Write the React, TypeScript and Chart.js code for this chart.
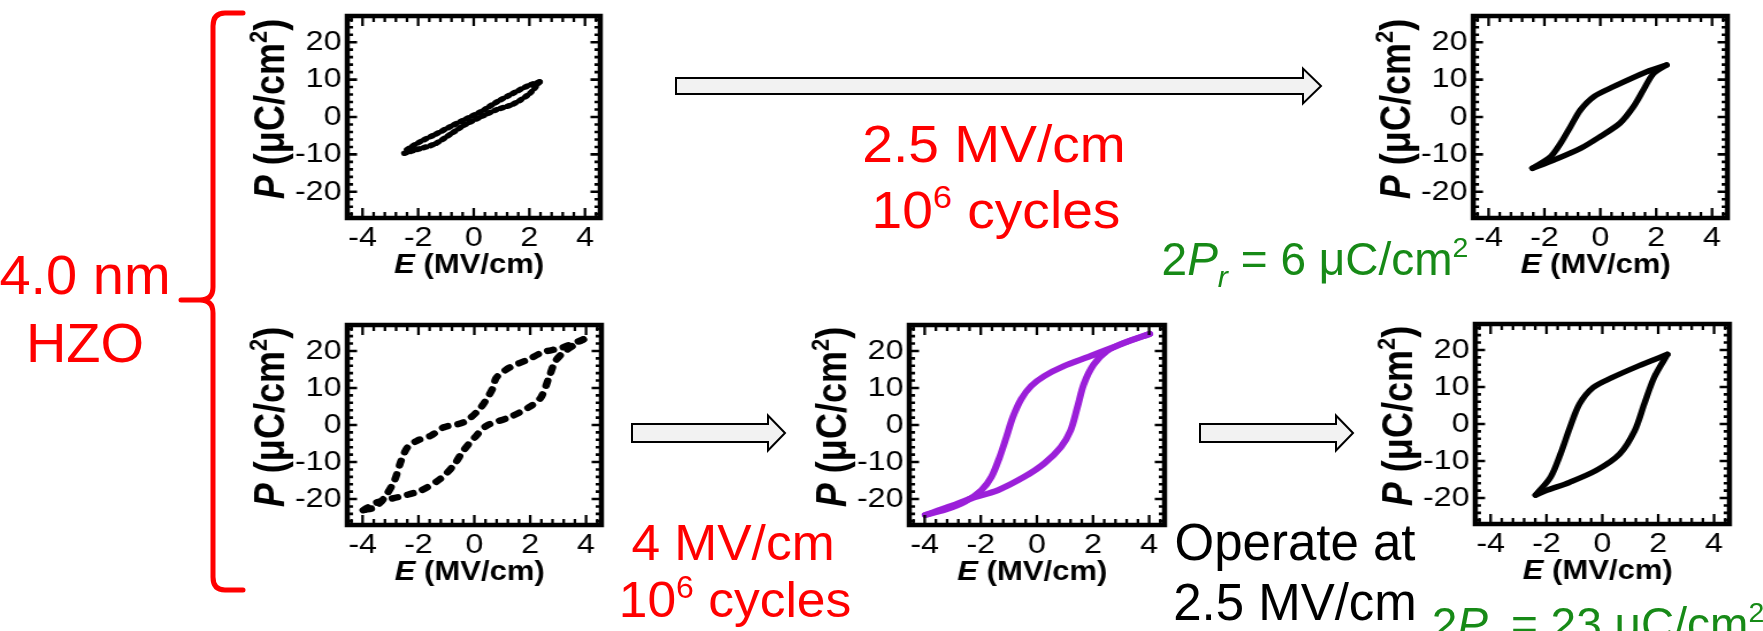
import React, { useEffect, useRef } from 'react';
import { Chart, registerables } from 'chart.js';

Chart.register(...registerables);

const FONT = "'Liberation Sans', Arial, Helvetica, sans-serif";

// ---------- axis ticks ----------
const X_TICKS = [-4, -2, 0, 2, 4];
const X_TICK_LABELS = ['-4', '-2', '0', '2', '4'];
const X_MINOR = [-4.4, -3.6, -3.2, -2.8, -2.4, -1.6, -1.2, -0.8, -0.4, 0.4, 0.8, 1.2, 1.6, 2.4, 2.8, 3.2, 3.6, 4.4];
const Y_TICKS = [-20, -10, 0, 10, 20];
const Y_TICK_LABELS = ['-20', '-10', '0', '10', '20'];
const Y_MINOR = [-26, -24, -22, -18, -16, -14, -12, -8, -6, -4, -2, 2, 4, 6, 8, 12, 14, 16, 18, 22, 24, 26];
const X_MIN = -4.55;
const X_MAX = 4.55;
const Y_MIN = -27;
const Y_MAX = 27;

// ---------- series (E in MV/cm, P in uC/cm2) ----------
// top-left: pristine, 2.5 MV/cm
const A_UP_E = [2.37, 2.0, 1.4, 0.8, 0.3, -0.3, -0.8, -1.4, -2.0, -2.5];
const A_UP_P = [9.4, 8.5, 6.3, 3.9, 1.6, -0.6, -2.4, -4.7, -6.9, -9.2];
const A_LO_E = [-2.5, -2.0, -1.4, -0.8, -0.3, 0.3, 0.8, 1.4, 2.0, 2.37];
const A_LO_P = [-9.7, -8.6, -7.2, -4.4, -2.0, 0.2, 1.9, 3.4, 6.2, 9.4];

// top-right: after 10^6 cycles at 2.5 MV/cm
const B_UP_E = [2.37, 1.66, 0.47, -0.24, -0.71, -1.07, -1.42, -1.78, -2.43];
const B_UP_P = [13.9, 12.1, 8.1, 5.4, 1.9, -2.6, -7.0, -10.6, -13.7];
const B_LO_E = [-2.43, -1.66, -0.71, 0.0, 0.71, 1.19, 1.54, 1.9, 2.37];
const B_LO_P = [-13.7, -11.5, -8.4, -5.2, -1.6, 2.8, 7.2, 11.6, 13.9];

// bottom-left: pristine, 4 MV/cm
const C_UP_E = [3.9, 3.14, 2.44, 1.96, 1.26, 0.79, 0.67, 0.44, 0.14, -0.39, -1.09, -1.56, -2.04, -2.39, -2.62, -2.86, -3.21, -3.56, -3.98];
const C_UP_P = [23.1, 20.9, 19.6, 17.8, 15.5, 12.8, 10.1, 7.0, 3.9, 0.7, -0.6, -2.9, -4.2, -6.0, -9.6, -15.0, -19.5, -22.2, -23.0];
const C_LO_E = [-3.98, -3.45, -2.74, -1.92, -1.21, -0.74, -0.39, 0.02, 0.44, 1.26, 1.96, 2.38, 2.67, 2.91, 3.26, 3.9];
const C_LO_P = [-23.0, -20.8, -19.5, -17.7, -14.5, -10.9, -6.9, -3.3, -0.2, 2.1, 4.8, 7.4, 12.8, 17.3, 20.0, 23.1];

// bottom-middle: after 10^6 cycles at 4 MV/cm
const D_UP_E = [4.02, 3.08, 1.91, 0.96, 0.26, -0.21, -0.56, -0.86, -1.09, -1.33, -1.62, -1.98, -2.56, -3.27, -3.98];
const D_UP_P = [24.6, 22.1, 18.6, 15.9, 13.2, 10.5, 7.0, 2.1, -3.3, -8.7, -14.0, -17.6, -20.7, -22.9, -24.3];
const D_LO_E = [-3.98, -3.15, -2.33, -1.39, -0.45, 0.26, 0.85, 1.2, 1.44, 1.67, 2.02, 2.49, 3.08, 4.02];
const D_LO_P = [-24.3, -22.1, -19.8, -17.6, -14.0, -10.4, -6.0, -1.5, 4.7, 11.0, 16.3, 19.9, 22.1, 24.6];

// bottom-right: operated at 2.5 MV/cm
const E_UP_E = [2.33, 1.3, 0.34, -0.34, -0.82, -1.16, -1.5, -1.85, -2.39];
const E_UP_P = [18.8, 15.7, 12.5, 9.8, 5.4, -0.9, -8.1, -14.3, -19.2];
const E_LO_E = [-2.39, -1.98, -1.16, -0.21, 0.62, 1.16, 1.5, 1.85, 2.33];
const E_LO_P = [-19.2, -17.9, -15.7, -12.5, -8.1, -1.8, 5.4, 12.5, 18.8];

// ---------- layout constants ----------
const SX = 1.15; // horizontal stretch of the pasted plots
const LY = 95;
const LX = 75;
const PAD_T = 8;
const PAD_R = 10;

const framePlugin = {
  id: 'hzoFrame',
  afterDraw(chart: any) {
    const { ctx, chartArea: a, scales } = chart;
    const sx = scales.x;
    const sy = scales.y;
    ctx.save();
    ctx.strokeStyle = '#000';
    ctx.lineCap = 'butt';
    ctx.lineWidth = 2.3;
    const drawX = (v: number, len: number) => {
      const px = sx.getPixelForValue(v);
      ctx.beginPath();
      ctx.moveTo(px, a.bottom);
      ctx.lineTo(px, a.bottom - len);
      ctx.moveTo(px, a.top);
      ctx.lineTo(px, a.top + len);
      ctx.stroke();
    };
    X_MINOR.forEach((v) => drawX(v, 6));
    X_TICKS.forEach((v) => drawX(v, 10));
    ctx.lineWidth = 2.6;
    const drawY = (v: number, len: number) => {
      const py = sy.getPixelForValue(v);
      ctx.beginPath();
      ctx.moveTo(a.left, py);
      ctx.lineTo(a.left + len, py);
      ctx.moveTo(a.right, py);
      ctx.lineTo(a.right - len, py);
      ctx.stroke();
    };
    Y_MINOR.forEach((v) => drawY(v, 5));
    Y_TICKS.forEach((v) => drawY(v, 8.5));
    ctx.lineWidth = 4.5;
    ctx.strokeRect(a.left, a.top, a.right - a.left, a.bottom - a.top);

    // x-axis title: E (MV/cm)
    ctx.fillStyle = '#000';
    ctx.textBaseline = 'middle';
    ctx.textAlign = 'left';
    const fIt = `italic bold 27px ${FONT}`;
    const fB = `bold 27px ${FONT}`;
    ctx.font = fIt;
    const wE = ctx.measureText('E').width;
    ctx.font = fB;
    const wR = ctx.measureText(' (MV/cm)').width;
    const x0 = (a.left + a.right) / 2 - 4 - (wE + wR) / 2;
    const yT = a.bottom + 48;
    ctx.font = fIt;
    ctx.fillText('E', x0, yT);
    ctx.font = fB;
    ctx.fillText(' (MV/cm)', x0 + wE, yT);

    // y-axis title: P (uC/cm2)
    ctx.save();
    ctx.translate(a.left - 65, (a.top + a.bottom) / 2 - 8);
    ctx.rotate(-Math.PI / 2);
    const parts: [string, string, number][] = [
      ['P', `italic bold 36px ${FONT}`, 0],
      [' (\u03bcC/cm', `bold 36px ${FONT}`, 0],
      ['2', `bold 22px ${FONT}`, -11],
      [')', `bold 36px ${FONT}`, 0],
    ];
    let total = 0;
    parts.forEach(([t, f]) => {
      ctx.font = f;
      total += ctx.measureText(t).width;
    });
    let cx = -total / 2;
    parts.forEach(([t, f, dy]) => {
      ctx.font = f;
      ctx.fillText(t, cx, dy);
      cx += ctx.measureText(t).width;
    });
    ctx.restore();
    ctx.restore();
  },
};

type Series = { e: number[]; p: number[] };

function toXY(s: Series) {
  return s.e.map((e, i) => ({ x: e, y: s.p[i] }));
}

function Panel({
  area,
  branches,
  color,
  width,
  dash,
}: {
  area: [number, number, number, number];
  branches: Series[];
  color: string;
  width: number;
  dash: number[];
}) {
  const ref = useRef<HTMLCanvasElement>(null);
  const [ax0, ax1, ay0, ay1] = area;
  const cw = Math.round(LY + (ax1 - ax0) / SX + PAD_R);
  const ch = Math.round(PAD_T + (ay1 - ay0) + LX);
  const left = ax0 - LY * SX;
  const top = ay0 - PAD_T;

  useEffect(() => {
    if (!ref.current) return;
    const chart = new Chart(ref.current, {
      type: 'line',
      data: {
        datasets: branches.map((b) => ({
          data: toXY(b),
          borderColor: color,
          backgroundColor: color,
          borderWidth: width,
          borderDash: dash,
          borderCapStyle: 'round',
          borderJoinStyle: 'round',
          pointRadius: 0,
          tension: 0.3,
          fill: false,
        })),
      },
      options: {
        responsive: false,
        maintainAspectRatio: false,
        animation: false,
        events: [],
        layout: { padding: { top: PAD_T, right: PAD_R, left: 0, bottom: 0 } },
        plugins: {
          legend: { display: false },
          tooltip: { enabled: false },
          title: { display: false },
        },
        scales: {
          x: {
            type: 'linear',
            min: X_MIN,
            max: X_MAX,
            afterBuildTicks: (s: any) => {
              s.ticks = X_TICKS.map((v) => ({ value: v }));
            },
            afterFit: (s: any) => {
              s.height = LX;
              s.paddingLeft = 0;
              s.paddingRight = 0;
            },
            grid: { display: false, drawTicks: false },
            border: { display: false },
            ticks: {
              color: '#000',
              font: { family: FONT, size: 28 },
              padding: 3,
              maxRotation: 0,
              autoSkip: false,
              callback: (v: any) => X_TICK_LABELS[X_TICKS.indexOf(Number(v))] ?? '',
            },
          },
          y: {
            type: 'linear',
            min: Y_MIN,
            max: Y_MAX,
            afterBuildTicks: (s: any) => {
              s.ticks = Y_TICKS.map((v) => ({ value: v }));
            },
            afterFit: (s: any) => {
              s.width = LY;
              s.paddingTop = 0;
              s.paddingBottom = 0;
            },
            grid: { display: false, drawTicks: false },
            border: { display: false },
            ticks: {
              color: '#000',
              font: { family: FONT, size: 28 },
              padding: 5,
              autoSkip: false,
              callback: (v: any) => Y_TICK_LABELS[Y_TICKS.indexOf(Number(v))] ?? '',
            },
          },
        },
      } as any,
      plugins: [framePlugin],
    });
    return () => chart.destroy();
  }, []);

  return (
    <div
      style={{
        position: 'absolute',
        left,
        top,
        width: cw,
        height: ch,
        transform: `scaleX(${SX})`,
        transformOrigin: '0 0',
      }}
    >
      <canvas ref={ref} width={cw} height={ch} />
    </div>
  );
}

function Txt({
  cx,
  baseline,
  size,
  color,
  sx = 1,
  children,
}: {
  cx: number;
  baseline: number;
  size: number;
  color: string;
  sx?: number;
  children: React.ReactNode;
}) {
  return (
    <div
      style={{
        position: 'absolute',
        left: cx - 300,
        width: 600,
        top: baseline - 0.8465 * size,
        textAlign: 'center',
        fontFamily: FONT,
        fontSize: size,
        lineHeight: `${size}px`,
        color,
        whiteSpace: 'nowrap',
        transform: `scaleX(${sx})`,
        transformOrigin: '50% 50%',
      }}
    >
      {children}
    </div>
  );
}

const sup = (t: string) => (
  <span style={{ fontSize: '0.62em', verticalAlign: '0.62em', lineHeight: 0 }}>{t}</span>
);
const subR = (
  <span style={{ fontStyle: 'italic', fontSize: '0.66em', verticalAlign: '-0.38em', lineHeight: 0 }}>r</span>
);

function arrow(x0: number, xh: number, tip: number, cy: number, bh: number, hh: number) {
  return `${x0},${cy - bh} ${xh},${cy - bh} ${xh},${cy - hh} ${tip},${cy} ${xh},${cy + hh} ${xh},${cy + bh} ${x0},${cy + bh}`;
}

const RED = '#ff0000';
const GREEN = '#178a17';
const PURPLE = '#9b1fd9';

export default function App() {
  return (
    <div
      style={{
        position: 'absolute',
        left: 0,
        top: 0,
        width: 1763,
        height: 631,
        overflow: 'hidden',
        background: '#fff',
      }}
    >
      <svg width={1763} height={631} style={{ position: 'absolute', left: 0, top: 0 }}>
        <path
          d="M 243 13 L 225 13 Q 213 13 213 26 L 213 287 Q 213 300 200 300 L 181 300 M 200 300 Q 213 300 213 313 L 213 577 Q 213 590 225 590 L 243 590"
          fill="none"
          stroke={RED}
          strokeWidth={5}
          strokeLinecap="round"
          strokeLinejoin="round"
        />
        <polygon points={arrow(676, 1303, 1321, 86, 8, 17.5)} fill="#f2f2f2" stroke="#000" strokeWidth={2} />
        <polygon points={arrow(632, 768, 785, 433, 9, 17.5)} fill="#f2f2f2" stroke="#000" strokeWidth={2} />
        <polygon points={arrow(1200, 1336, 1353, 433, 9, 17.5)} fill="#f2f2f2" stroke="#000" strokeWidth={2} />
      </svg>

      <Panel area={[347, 600, 16, 218]} branches={[{ e: A_UP_E, p: A_UP_P }, { e: A_LO_E, p: A_LO_P }]} color="#000" width={5.5} dash={[2, 4]} />
      <Panel area={[1473, 1727, 16, 218]} branches={[{ e: B_UP_E, p: B_UP_P }, { e: B_LO_E, p: B_LO_P }]} color="#000" width={5.5} dash={[]} />
      <Panel area={[347, 601, 325, 525]} branches={[{ e: C_UP_E, p: C_UP_P }, { e: C_LO_E, p: C_LO_P }]} color="#000" width={6.5} dash={[5, 9]} />
      <Panel area={[909, 1164, 325, 525]} branches={[{ e: D_UP_E, p: D_UP_P }, { e: D_LO_E, p: D_LO_P }]} color={PURPLE} width={6} dash={[]} />
      <Panel area={[1475, 1729, 324, 524]} branches={[{ e: E_UP_E, p: E_UP_P }, { e: E_LO_E, p: E_LO_P }]} color="#000" width={5.5} dash={[]} />

      <Txt cx={85} baseline={294} size={56} color={RED}>4.0 nm</Txt>
      <Txt cx={85} baseline={362} size={56} color={RED}>HZO</Txt>

      <Txt cx={994} baseline={162} size={52} color={RED} sx={1.06}>2.5 MV/cm</Txt>
      <Txt cx={996} baseline={228} size={52} color={RED} sx={1.06}>10{sup('6')} cycles</Txt>

      <Txt cx={733} baseline={560} size={50} color={RED} sx={1.03}>4 MV/cm</Txt>
      <Txt cx={735} baseline={617} size={50} color={RED} sx={1.03}>10{sup('6')} cycles</Txt>

      <Txt cx={1295} baseline={560} size={51} color="#000">Operate at</Txt>
      <Txt cx={1295} baseline={620} size={51} color="#000">2.5 MV/cm</Txt>

      <Txt cx={1315} baseline={275} size={46} color={GREEN}>
        2<i>P</i>{subR} = 6 μC/cm{sup('2')}
      </Txt>
      <Txt cx={1598} baseline={640} size={46} color={GREEN}>
        2<i>P</i>{subR} = 23 μC/cm{sup('2')}
      </Txt>
    </div>
  );
}
